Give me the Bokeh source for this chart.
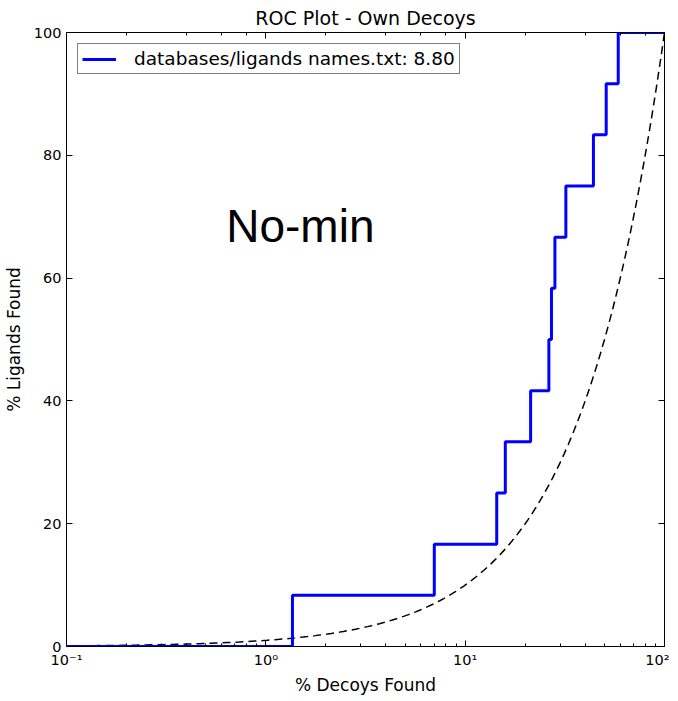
import numpy as np
from bokeh.plotting import figure
from bokeh.models import (LogAxis, LinearAxis, LogTicker, FixedTicker, Label,
                          Legend, LegendItem)
from bokeh.embed import file_html
from bokeh.resources import INLINE

# ---------------- data ----------------
# ROC curve (step plot): % decoys found vs % ligands found
decoys_found = [0.1, 1.36, 7.0, 14.4, 15.9, 21.3, 26.3, 27.1, 28.2, 32.0, 44.0, 51.0, 58.6, 100.0]
ligands_found = [0.0, 8.33, 16.67, 25.0, 33.33, 41.67, 50.0, 58.33, 66.67, 75.0, 83.33, 91.67, 100.0, 100.0]
series_label = "databases/ligands names.txt: 8.80"

# random-selection reference line (ligands found == decoys found)
random_pct = np.logspace(-1, 2, 150)

y_ticks = [0, 20, 40, 60, 80, 100]
x_tick_labels = {0.1: "10\u207b\u00b9", 1: "10\u2070", 10: "10\u00b9", 100: "10\u00b2"}

title_text = "ROC Plot - Own Decoys"
x_label = "% Decoys Found"
y_label = "% Ligands Found"
overlay_text = "No-min"
overlay_pos = (1.49, 68.5)

FONT = "DejaVu Sans"

# ---------------- figure ----------------
p = figure(frame_width=598, frame_height=614,
           x_axis_type="log", x_range=(0.1, 100), y_range=(0, 100),
           output_backend="svg", toolbar_location=None,
           title=title_text)
p.min_border_left = 59
p.min_border_right = 5
p.min_border_top = 30
p.min_border_bottom = 44
p.background_fill_color = "white"
p.border_fill_color = "white"
p.outline_line_color = "black"
p.outline_line_width = 1
p.grid.visible = False

p.title.align = "center"
p.title.text_font = FONT
p.title.text_font_size = "19px"
p.title.text_font_style = "normal"
p.title.text_color = "black"
p.title.standoff = 8

def style_axis(ax, show_labels):
    ax.axis_line_color = "black"
    ax.major_tick_in = 6
    ax.major_tick_out = 0
    ax.minor_tick_in = 3
    ax.minor_tick_out = 0
    ax.major_tick_line_color = "black"
    ax.minor_tick_line_color = "black"
    ax.major_label_text_font = FONT
    ax.major_label_text_color = "black"
    ax.axis_label_text_font = FONT
    ax.axis_label_text_font_style = "normal"
    ax.axis_label_text_color = "black"
    if show_labels:
        ax.major_label_text_font_size = "14.5px"
        ax.axis_label_text_font_size = "17px"
    else:
        ax.major_label_text_font_size = "1px"
        ax.major_label_text_alpha = 0
        ax.major_label_standoff = 0

# bottom x axis
xa = p.xaxis[0]
style_axis(xa, True)
xa.axis_label = x_label
xa.major_label_overrides = x_tick_labels
xa.major_label_standoff = 5
xa.axis_label_standoff = 4

# left y axis
ya = p.yaxis[0]
style_axis(ya, True)
ya.ticker = FixedTicker(ticks=y_ticks)
ya.minor_tick_line_color = None
ya.axis_label = y_label
ya.major_label_standoff = 5
ya.axis_label_standoff = 7

# top and right mirror axes (ticks only)
top = LogAxis(ticker=LogTicker())
style_axis(top, False)
p.add_layout(top, "above")

right = LinearAxis(ticker=FixedTicker(ticks=y_ticks))
style_axis(right, False)
right.minor_tick_line_color = None
p.add_layout(right, "right")

# ---------------- glyphs ----------------
rand = p.line(random_pct, random_pct, line_color="black", line_width=1.5,
              line_dash="8 5")
roc = p.step(decoys_found, ligands_found, mode="after",
             line_color="#0000ff", line_width=3)

legend = Legend(items=[LegendItem(label=series_label, renderers=[roc])],
                location="top_left")
legend.margin = 11
legend.padding = 4
legend.glyph_width = 34
legend.label_standoff = 18
legend.label_text_font = FONT
legend.label_text_font_size = "18.5px"
legend.label_text_color = "black"
legend.border_line_color = "black"
legend.border_line_width = 1
legend.background_fill_alpha = 1
p.add_layout(legend)

p.add_layout(Label(x=overlay_pos[0], y=overlay_pos[1], text=overlay_text,
                   text_font="Liberation Sans", text_font_size="46px",
                   text_align="center", text_baseline="middle",
                   text_color="black"))

open("out.html", "w").write(file_html(p, INLINE))
